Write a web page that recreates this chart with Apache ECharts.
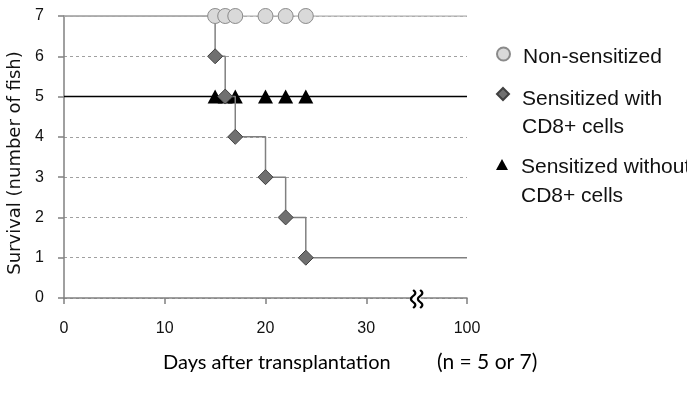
<!DOCTYPE html>
<html>
<head>
<meta charset="utf-8">
<script src="https://cdn.jsdelivr.net/npm/echarts@6.0.0/dist/echarts.min.js"></script>
<style>
html,body{margin:0;padding:0;background:#fff}
#main{width:687px;height:394px}
</style>
</head>
<body>
<div id="main"></div>
<script>
// survival data (days of event / censoring, number of fish left)
var endDay = 100;
var nonDays = [15, 16, 17, 20, 22, 24];
var nonCount = [7, 7, 7, 7, 7, 7];
var withDays = [15, 16, 17, 20, 22, 24];
var withCount = [6, 5, 4, 3, 2, 1];
var withoutDays = [15, 16, 17, 20, 22, 24];
var withoutCount = [5, 5, 5, 5, 5, 5];
var startCount = [7, 7, 5];
var xTicks = [0, 10, 20, 30, 100];
var names = ['Non-sensitized', 'Sensitized with\nCD8+ cells', 'Sensitized without\nCD8+ cells'];

// broken x axis: 35..100 squeezed into 35..40
var breakAt = 35;
function mapX(d) {
	return d <= breakAt ? d : breakAt + (d - breakAt) / 13;
}
function unmapX(v) {
	return v <= breakAt ? v : Math.round(breakAt + (v - breakAt) * 13);
}

function buildData(days, counts, start) {
	var pts = [{ value: [0, start], symbol: 'none' }];
	for (var i = 0; i < days.length; i++) {
		pts.push([mapX(days[i]), counts[i]]);
	}
	pts.push({ value: [mapX(endDay), counts[counts.length - 1]], symbol: 'none' });
	return pts;
}

// legend text: empty first line pushes the real first line level with the icon
function legendStyle(gap, lh) {
	return {
		padding: [0, 0, 0, 8],
		rich: {
			e: { fontSize: 2, lineHeight: gap },
			t: { color: '#111', fontFamily: 'Liberation Sans', fontSize: 21, lineHeight: lh }
		}
	};
}
function legendFormat(name) {
	return '{e| }\n' + name.split('\n').map(function(s) {
		return '{t|' + s + '}';
	}).join('\n');
}

var dom = document.getElementById('main');
var myChart = echarts.init(dom);

var option = {
	animation: false,
	grid: {
		left: 64,
		right: 220,
		top: 16,
		bottom: 96,
		outerBoundsMode: 'none',
		containLabel: false
	},
	legend: [{
		left: 496,
		top: 39,
		padding: 0,
		itemWidth: 13,
		itemHeight: 13,
		data: [{ name: names[0], icon: 'circle' }],
		formatter: legendFormat,
		textStyle: legendStyle(6, 28)
	}, {
		left: 496,
		top: 65,
		padding: 0,
		itemWidth: 12,
		itemHeight: 12,
		data: [{ name: names[1], icon: 'diamond' }],
		formatter: legendFormat,
		textStyle: legendStyle(38, 28)
	}, {
		left: 496,
		top: 135,
		padding: 0,
		itemWidth: 12,
		itemHeight: 11,
		data: [{ name: names[2], icon: 'triangle' }],
		formatter: legendFormat,
		textStyle: legendStyle(34, 28.5)
	}],
	xAxis: {
		type: 'value',
		min: 0,
		max: mapX(endDay),
		interval: 10,
		axisLine: { lineStyle: { color: '#808080', width: 1.5 } },
		axisTick: { show: true, length: 6, lineStyle: { color: '#808080', width: 1.5 } },
		axisLabel: {
			color: '#111',
			fontFamily: 'Liberation Sans',
			fontSize: 16,
			margin: 23,
			formatter: function(v) {
				var d = unmapX(v);
				return xTicks.indexOf(d) >= 0 ? String(d) : '';
			}
		},
		splitLine: { show: false }
	},
	yAxis: {
		type: 'value',
		min: 0,
		max: 7,
		interval: 1,
		name: 'Survival (number of fish)',
		nameLocation: 'middle',
		nameGap: 40,
		nameTextStyle: {
			color: '#111',
			fontFamily: 'DejaVu Sans',
			fontSize: 18,
			padding: [0, 12, 0, 0]
		},
		axisLine: { show: true, lineStyle: { color: '#808080', width: 1.5 } },
		axisTick: { show: true, length: 6, lineStyle: { color: '#808080', width: 1.5 } },
		axisLabel: {
			color: '#111',
			fontFamily: 'Liberation Sans',
			fontSize: 16,
			margin: 20
		},
		splitLine: {
			lineStyle: { color: '#a0a0a0', type: [3, 3], width: 1 }
		}
	},
	series: [{
		name: names[0],
		type: 'line',
		step: 'end',
		z: 4,
		showAllSymbol: true,
		symbol: 'circle',
		symbolSize: 15,
		lineStyle: { color: '#b3b3b3', width: 1.5 },
		itemStyle: { color: '#d9d9d9', borderColor: '#8a8a8a', borderWidth: 1 },
		data: buildData(nonDays, nonCount, startCount[0])
	}, {
		name: names[2],
		type: 'line',
		step: 'end',
		z: 2,
		showAllSymbol: true,
		symbol: 'triangle',
		symbolSize: [15, 14],
		lineStyle: { color: '#000', width: 1.5 },
		itemStyle: { color: '#000' },
		data: buildData(withoutDays, withoutCount, startCount[2])
	}, {
		name: names[1],
		type: 'line',
		step: 'end',
		z: 3,
		showAllSymbol: true,
		symbol: 'diamond',
		symbolSize: 15,
		lineStyle: { color: '#808080', width: 1.5 },
		itemStyle: { color: '#707070', borderColor: '#404040', borderWidth: 1 },
		data: buildData(withDays, withCount, startCount[1])
	}]
};

myChart.setOption(option);

// break mark on the x axis: two wavy strokes
var bp = myChart.convertToPixel({ gridIndex: 0 }, [breakAt, 0]);
function wave(cx, cy) {
	var pts = [];
	for (var k = 0; k <= 24; k++) {
		var t = k / 24;
		pts.push([cx + 2.2 * Math.sin(t * Math.PI * 3), cy - 9 + 18 * t]);
	}
	return pts;
}
myChart.setOption({
	graphic: [{
		type: 'rect',
		shape: { x: bp[0] - 4, y: bp[1] - 3, width: 8, height: 6 },
		style: { fill: '#fff' },
		z: 100
	}, {
		type: 'polyline',
		shape: { points: wave(bp[0] - 3.5, bp[1] + 1) },
		style: { stroke: '#000', lineWidth: 2.2, fill: null },
		z: 101
	}, {
		type: 'polyline',
		shape: { points: wave(bp[0] + 3.5, bp[1] + 1) },
		style: { stroke: '#000', lineWidth: 2.2, fill: null },
		z: 101
	}, {
		type: 'text',
		left: 163,
		top: 353,
		style: {
			text: 'Days after transplantation',
			fontSize: 20,
			fontFamily: 'Lato',
			fill: '#000'
		}
	}, {
		type: 'text',
		left: 437,
		top: 352,
		style: {
			text: '(n = 5 or 7)',
			fontSize: 21,
			fontFamily: 'Lato',
			fill: '#000'
		}
	}]
});
</script>
</body>
</html>
